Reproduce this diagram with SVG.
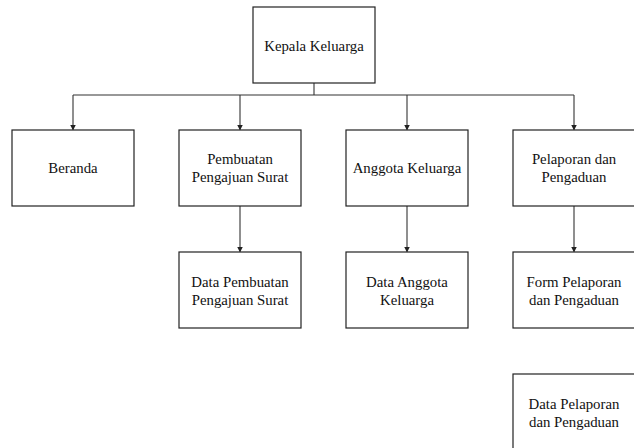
<svg xmlns="http://www.w3.org/2000/svg" width="634" height="448" viewBox="0 0 634 448">
<style>
.box{fill:#fff;stroke:#222;stroke-width:1.2}
.t{font-family:"Liberation Serif","Times New Roman",serif;font-size:14.8px;fill:#111;text-anchor:middle}
.c{fill:none;stroke:#333;stroke-width:1.1}
</style>
<defs>
<marker id="ah" markerWidth="6" markerHeight="7" refX="5" refY="3.5" orient="auto" markerUnits="userSpaceOnUse">
<path d="M0,0.5 L6,3.5 L0,6.5 Z" fill="#222"/>
</marker>
</defs>
<rect width="634" height="448" fill="#fff"/>
<g id="connectors">
<path class="c" d="M314,83 V95"/>
<path class="c" d="M73,95 H574"/>
<path class="c" d="M73,95 V129.5" marker-end="url(#ah)"/>
<path class="c" d="M240,95 V129.5" marker-end="url(#ah)"/>
<path class="c" d="M407,95 V129.5" marker-end="url(#ah)"/>
<path class="c" d="M574,95 V129.5" marker-end="url(#ah)"/>
<path class="c" d="M240,206 V251.5" marker-end="url(#ah)"/>
<path class="c" d="M407,206 V251.5" marker-end="url(#ah)"/>
<path class="c" d="M574,206 V251.5" marker-end="url(#ah)"/>
</g>
<g id="kepala">
<rect class="box" x="253" y="7" width="122" height="76"/>
<text class="t" x="314" y="51">Kepala Keluarga</text>
</g>
<g id="beranda">
<rect class="box" x="12" y="130" width="122" height="76"/>
<text class="t" x="73" y="173">Beranda</text>
</g>
<g id="pembuatan">
<rect class="box" x="179" y="130" width="122" height="76"/>
<text class="t" x="240" y="164">Pembuatan</text>
<text class="t" x="240" y="182">Pengajuan Surat</text>
</g>
<g id="anggota">
<rect class="box" x="346" y="130" width="122" height="76"/>
<text class="t" x="407" y="173">Anggota Keluarga</text>
</g>
<g id="pelaporan">
<rect class="box" x="513" y="130" width="122" height="76"/>
<text class="t" x="574" y="164">Pelaporan dan</text>
<text class="t" x="574" y="182">Pengaduan</text>
</g>
<g id="data-pembuatan">
<rect class="box" x="179" y="252" width="122" height="76"/>
<text class="t" x="240" y="287">Data Pembuatan</text>
<text class="t" x="240" y="305">Pengajuan Surat</text>
</g>
<g id="data-anggota">
<rect class="box" x="346" y="252" width="122" height="76"/>
<text class="t" x="407" y="287">Data Anggota</text>
<text class="t" x="407" y="305">Keluarga</text>
</g>
<g id="form-pelaporan">
<rect class="box" x="513" y="252" width="122" height="76"/>
<text class="t" x="574" y="287">Form Pelaporan</text>
<text class="t" x="574" y="305">dan Pengaduan</text>
</g>
<g id="data-pelaporan">
<rect class="box" x="513" y="374" width="122" height="76"/>
<text class="t" x="574" y="409">Data Pelaporan</text>
<text class="t" x="574" y="427">dan Pengaduan</text>
</g>
</svg>
